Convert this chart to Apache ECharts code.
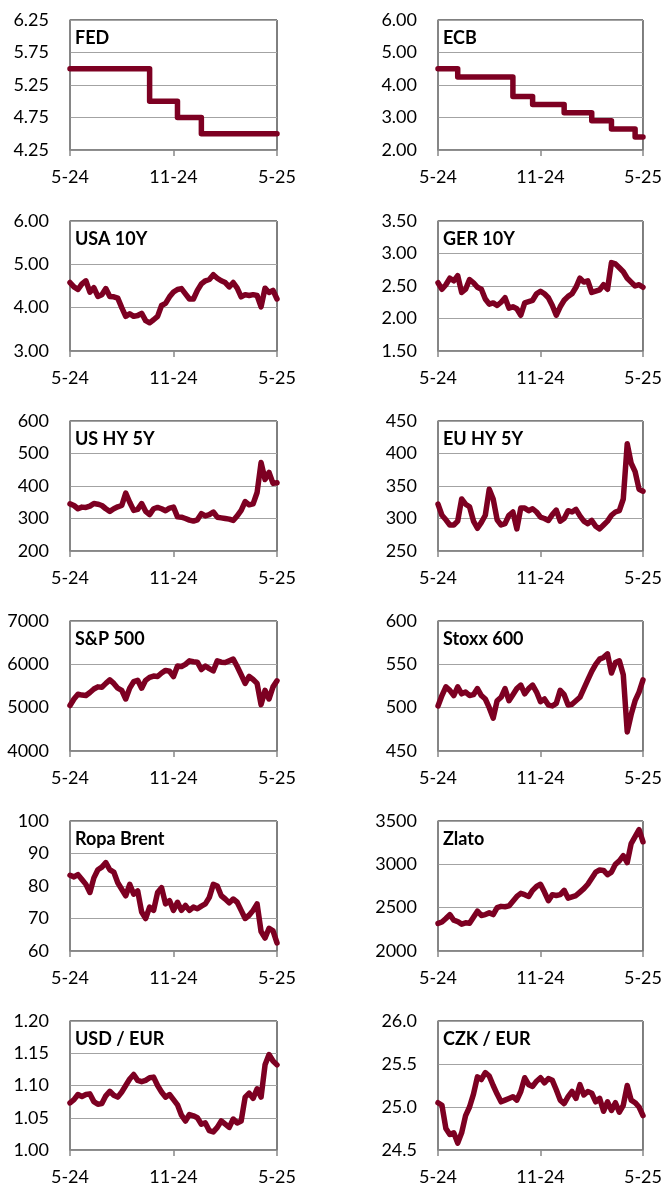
<!DOCTYPE html>
<html>
<head>
<meta charset="utf-8">
<script src="https://cdn.jsdelivr.net/npm/echarts@6/dist/echarts.min.js"></script>
<style>
html,body{margin:0;padding:0;background:#fff;}
#c{width:665px;height:1186px;}
</style>
</head>
<body>
<div id="c"></div>
<script>
// Weekly observations, May 2024 - April 2025
const dates = ['2024-05-01','2024-05-08','2024-05-15','2024-05-22','2024-05-29',
'2024-06-05','2024-06-12','2024-06-19','2024-06-26',
'2024-07-03','2024-07-10','2024-07-17','2024-07-24','2024-07-31',
'2024-08-07','2024-08-14','2024-08-21','2024-08-28',
'2024-09-04','2024-09-11','2024-09-18','2024-09-25',
'2024-10-02','2024-10-09','2024-10-16','2024-10-23','2024-10-30',
'2024-11-06','2024-11-13','2024-11-20','2024-11-27',
'2024-12-04','2024-12-11','2024-12-18','2024-12-25',
'2025-01-01','2025-01-08','2025-01-15','2025-01-22','2025-01-29',
'2025-02-05','2025-02-12','2025-02-19','2025-02-26',
'2025-03-05','2025-03-12','2025-03-19','2025-03-26',
'2025-04-02','2025-04-09','2025-04-16','2025-04-23','2025-04-30'];
const xTickIndex = [0, 26, 52];
const xTickLabels = ['5-24', '11-24', '5-25'];

const fed = [5.5,5.5,5.5,5.5,5.5,5.5,5.5,5.5,5.5,5.5,
5.5,5.5,5.5,5.5,5.5,5.5,5.5,5.5,5.5,5.5,
5.0,5.0,5.0,5.0,5.0,5.0,5.0,
4.75,4.75,4.75,4.75,4.75,4.75,
4.5,4.5,4.5,4.5,4.5,4.5,4.5,4.5,4.5,4.5,
4.5,4.5,4.5,4.5,4.5,4.5,4.5,4.5,4.5,4.5];
const ecb = [4.5,4.5,4.5,4.5,4.5,
4.25,4.25,4.25,4.25,4.25,4.25,4.25,4.25,4.25,4.25,4.25,4.25,4.25,4.25,
3.65,3.65,3.65,3.65,3.65,
3.4,3.4,3.4,3.4,3.4,3.4,3.4,3.4,
3.15,3.15,3.15,3.15,3.15,3.15,3.15,
2.9,2.9,2.9,2.9,2.9,
2.65,2.65,2.65,2.65,2.65,2.65,
2.4,2.4,2.4];
const usa10y = [4.58,4.48,4.42,4.55,4.62,4.36,4.46,4.26,4.30,4.44,
4.26,4.25,4.22,4.00,3.80,3.86,3.80,3.82,3.87,3.70,
3.65,3.72,3.80,4.05,4.10,4.25,4.36,4.42,4.44,4.32,
4.20,4.20,4.40,4.55,4.62,4.65,4.76,4.68,4.62,4.58,
4.48,4.58,4.45,4.25,4.30,4.28,4.30,4.28,4.02,4.45,
4.35,4.40,4.20];
const ger10y = [2.55,2.45,2.52,2.62,2.58,2.66,2.40,2.45,2.60,2.55,
2.48,2.45,2.30,2.22,2.24,2.20,2.25,2.32,2.16,2.18,
2.15,2.05,2.24,2.26,2.28,2.38,2.42,2.38,2.32,2.20,
2.05,2.18,2.28,2.34,2.38,2.48,2.62,2.56,2.58,2.40,
2.42,2.44,2.52,2.45,2.86,2.84,2.78,2.72,2.62,2.56,
2.50,2.52,2.48];
const usHy5y = [345,340,330,335,334,338,346,344,340,330,
322,330,336,340,378,350,325,328,346,322,
312,330,334,330,324,332,335,305,304,300,
295,292,296,315,308,312,320,304,302,300,
298,294,308,325,352,342,345,380,472,420,
442,408,410];
const euHy5y = [322,305,298,290,290,296,330,322,318,296,
285,294,305,345,330,298,290,292,305,310,
284,316,316,312,315,310,302,300,297,306,
313,296,300,312,310,314,304,296,292,297,
288,284,290,296,305,310,312,330,415,385,
372,345,342];
const sp500 = [5050,5200,5310,5290,5280,5350,5430,5480,5470,5560,
5640,5560,5450,5400,5200,5450,5600,5630,5450,5630,
5700,5730,5720,5800,5860,5840,5720,5960,5950,6000,
6080,6060,6050,5880,5960,5900,5850,6080,6050,6040,
6080,6120,5950,5760,5560,5720,5650,5560,5070,5400,
5200,5480,5620];
const stoxx600 = [502,514,524,520,514,524,516,518,514,515,
522,514,510,500,488,508,512,522,508,515,
522,526,516,522,526,518,507,510,503,502,
505,520,515,503,504,508,512,522,532,542,
550,556,558,562,540,552,554,538,472,492,
508,518,532];
const brent = [83.3,82.8,83.5,82.0,80.5,78.0,82.5,85.0,85.8,87.2,
85.0,84.3,81.0,79.0,77.0,80.5,77.5,78.5,72.0,70.0,
73.5,72.5,78.0,79.5,74.5,75.5,72.5,75.0,72.5,74.0,
72.5,73.5,73.0,73.8,74.5,76.5,80.5,80.0,77.0,76.0,
74.8,76.0,75.0,72.5,70.0,71.0,72.5,74.5,66.0,64.0,
67.0,66.2,62.5];
const gold = [2318,2335,2375,2420,2355,2340,2310,2325,2320,2390,
2460,2410,2420,2440,2420,2500,2515,2510,2520,2575,
2630,2665,2650,2630,2700,2745,2770,2680,2580,2650,
2640,2650,2700,2610,2625,2640,2680,2720,2770,2840,
2910,2935,2930,2880,2910,3000,3040,3100,3020,3240,
3320,3400,3260];
const usdEur = [1.073,1.078,1.086,1.083,1.086,1.087,1.075,1.071,1.072,1.084,
1.091,1.085,1.082,1.090,1.100,1.110,1.117,1.108,1.106,1.108,
1.112,1.113,1.100,1.090,1.082,1.086,1.078,1.070,1.054,1.045,
1.055,1.053,1.050,1.040,1.042,1.030,1.028,1.035,1.045,1.040,
1.035,1.048,1.042,1.045,1.082,1.088,1.080,1.095,1.082,1.132,
1.148,1.138,1.132];
const czkEur = [25.05,25.02,24.75,24.68,24.70,24.58,24.70,24.90,25.00,25.15,
25.35,25.32,25.40,25.36,25.25,25.15,25.06,25.08,25.10,25.12,
25.08,25.18,25.34,25.26,25.24,25.30,25.34,25.28,25.33,25.31,
25.20,25.08,25.04,25.12,25.18,25.10,25.26,25.14,25.18,25.16,
25.06,25.10,24.95,25.06,24.96,25.05,24.94,25.02,25.25,25.08,
25.05,25.00,24.90];

const panels = [
  {name:'FED', data:fed, min:4.25, max:6.25, step:0.5, dec:2, stepLine:true},
  {name:'ECB', data:ecb, min:2, max:6, step:1, dec:2, stepLine:true},
  {name:'USA 10Y', data:usa10y, min:3, max:6, step:1, dec:2},
  {name:'GER 10Y', data:ger10y, min:1.5, max:3.5, step:0.5, dec:2},
  {name:'US HY 5Y', data:usHy5y, min:200, max:600, step:100, dec:0},
  {name:'EU HY 5Y', data:euHy5y, min:250, max:450, step:50, dec:0},
  {name:'S&P 500', data:sp500, min:4000, max:7000, step:1000, dec:0},
  {name:'Stoxx 600', data:stoxx600, min:450, max:600, step:50, dec:0},
  {name:'Ropa Brent', data:brent, min:60, max:100, step:10, dec:0},
  {name:'Zlato', data:gold, min:2000, max:3500, step:500, dec:0},
  {name:'USD / EUR', data:usdEur, min:1.0, max:1.2, step:0.05, dec:2},
  {name:'CZK / EUR', data:czkEur, min:24.5, max:26, step:0.5, dec:1}
];

const LINE = '#7d0022';
const AXIS = '#898989';
const GRIDC = '#a3a3a3';
const FONT = 'Lato';
const colLeft = [70, 438];
const rowTop = [20, 221, 421, 621, 821, 1021];
const W = 207, H = 130;

const grids = [], xAxes = [], yAxes = [], series = [], titles = [];
panels.forEach((p, i) => {
  const r = Math.floor(i / 2), c = i % 2;
  grids.push({left: colLeft[c], top: rowTop[r], width: W, height: H,
    show: true, borderColor: '#000', borderWidth: 1, backgroundColor: '#fff'});
  xAxes.push({type: 'category', gridIndex: i, data: dates, boundaryGap: false,
    axisLine: {lineStyle: {color: AXIS, width: 1.5}},
    axisTick: {show: true, length: 6, lineStyle: {color: AXIS, width: 1.5},
      interval: (idx) => xTickIndex.indexOf(idx) >= 0},
    axisLabel: {interval: (idx) => xTickIndex.indexOf(idx) >= 0,
      formatter: (v, idx) => xTickLabels[xTickIndex.indexOf(idx)] || '',
      fontSize: 18, fontFamily: FONT, color: '#000', margin: 18},
    splitLine: {show: false}});
  yAxes.push({type: 'value', gridIndex: i, min: p.min, max: p.max, interval: p.step,
    axisLine: {show: true, lineStyle: {color: AXIS, width: 1.5}},
    axisTick: {show: false},
    axisLabel: {fontSize: 18, fontFamily: FONT, color: '#000', margin: 21,
      formatter: (v) => v.toFixed(p.dec)},
    splitLine: {show: true, lineStyle: {color: GRIDC, width: 1.2}}});
  series.push({type: 'line', xAxisIndex: i, yAxisIndex: i, data: p.data,
    showSymbol: false, step: p.stepLine ? 'end' : false,
    lineStyle: {color: LINE, width: 5.5, join: 'round', cap: 'round'},
    z: 3});
  titles.push({text: p.name, left: colLeft[c] + 5, top: rowTop[r] + 9, padding: 0,
    textStyle: {fontSize: 18, fontWeight: 'bold', fontFamily: FONT, color: '#000'}});
});

const chart = echarts.init(document.getElementById('c'), null, {renderer: 'canvas'});
chart.setOption({
  backgroundColor: '#fff',
  animation: false,
  title: titles,
  grid: grids,
  xAxis: xAxes,
  yAxis: yAxes,
  series: series
});
</script>
</body>
</html>
